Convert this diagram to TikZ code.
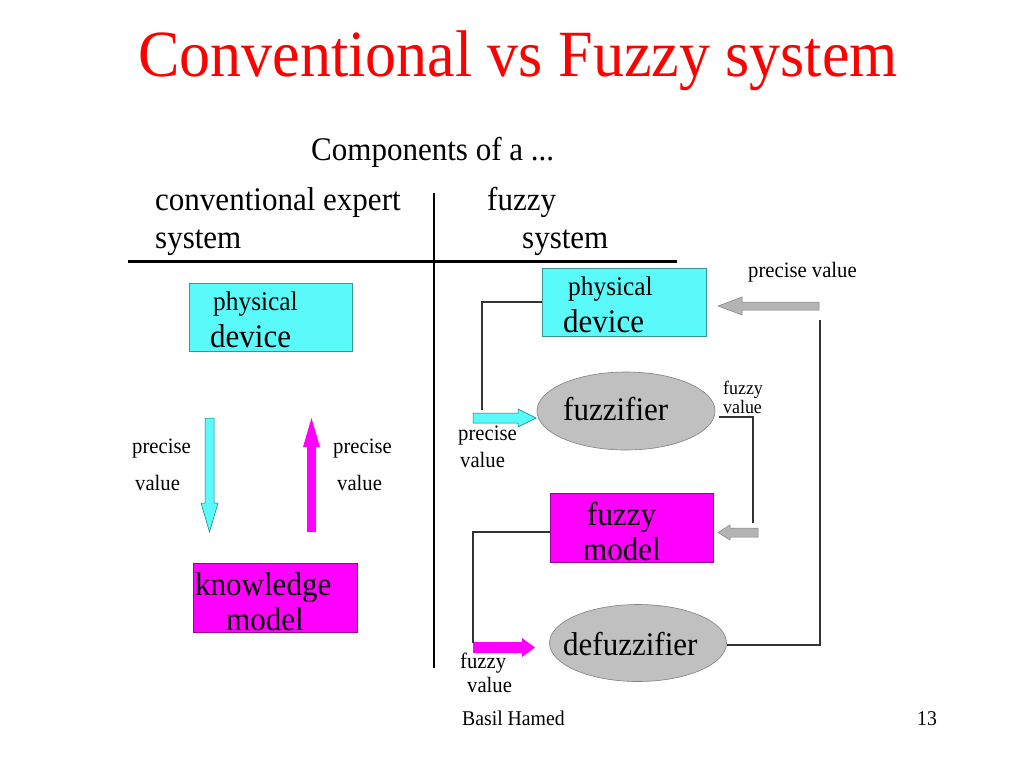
\documentclass[tikz,border=0pt]{standalone}
\usepackage{fontspec}
\setmainfont{Liberation Serif}
\usetikzlibrary{shapes.geometric}
\newcommand\myfs[1]{\fontsize{#1}{#1}\selectfont}
\definecolor{boxcyan}{RGB}{90,250,250}
\definecolor{boxmag}{RGB}{255,0,255}
\definecolor{ellgray}{RGB}{192,192,192}
\definecolor{arrgray}{RGB}{180,180,180}
\definecolor{titlered}{RGB}{255,0,0}
\begin{document}
\begin{tikzpicture}[x=1pt,y=-1pt,
  txt/.style={inner sep=0pt, anchor=base west, xscale=0.94},
  box/.style={draw=#1!60!black, line width=0.6pt, minimum width=164pt, minimum height=68pt, inner sep=0pt},
  ell/.style={ellipse, draw=gray, line width=0.6pt, fill=ellgray, inner sep=0pt},
  conn/.style={draw=black!80, line width=1.3pt},
  barrow/.style={line width=0.5pt}
]
\useasboundingbox[fill=white] (0,0) rectangle (1024,768);

% title
\node[txt, anchor=base, text=titlered, font=\myfs{66}] (title) at (518,77) {Conventional vs Fuzzy system};
\node[txt, font=\myfs{33}] (comp) at (311,160) {Components of a ...};
\node[txt, font=\myfs{33}] (conv1) at (155,210) {conventional expert};
\node[txt, font=\myfs{33}] (conv2) at (155,248) {system};
\node[txt, font=\myfs{33}] (fuz1) at (487,210) {fuzzy};
\node[txt, font=\myfs{33}] (fuz2) at (522,248) {system};

% table lines
\coordinate (hl) at (128,261);
\coordinate (hr) at (677,261);
\coordinate (vt) at (434,193);
\coordinate (vb) at (434,668);
\draw[line width=3pt] (hl) -- (hr);
\draw[line width=2pt] (vt) -- (vb);

% left side
\node[box=boxcyan, fill=boxcyan, minimum width=163pt] (pd1) at (270.5,317) {};
\node[txt, font=\myfs{27}] (pd1a) at (213,310) {physical};
\node[txt, font=\myfs{33}] (pd1b) at (210,347) {device};

\node[box=boxmag, fill=boxmag, minimum height=69pt] (km) at (275,597.5) {};
\node[txt, font=\myfs{33}] (kma) at (195,595) {knowledge};
\node[txt, font=\myfs{33}] (kmb) at (226,630) {model};

\fill[boxcyan, draw=teal, barrow] (205,418) -- (214,418) -- (214,503) -- (218,503) -- (209.5,532) -- (201,503) -- (205,503) -- cycle;
\fill[boxmag] (307,532) -- (316,532) -- (316,447) -- (320,447) -- (311.5,418) -- (303,447) -- (307,447) -- cycle;

\node[txt, font=\myfs{22}] (pl1) at (132,453) {precise};
\node[txt, font=\myfs{22}] (pl2) at (135,490) {value};
\node[txt, font=\myfs{22}] (pr1) at (333,453) {precise};
\node[txt, font=\myfs{22}] (pr2) at (337,490) {value};

% right side
\node[box=boxcyan, fill=boxcyan] (pd2) at (624,302) {};
\node[txt, font=\myfs{27}] (pd2a) at (568,295) {physical};
\node[txt, font=\myfs{33}] (pd2b) at (563,332) {device};

\node[ell, minimum width=178pt, minimum height=78pt] (fz) at (626,411) {};
\node[txt, font=\myfs{33}] (fza) at (563,420) {fuzzifier};

\node[box=boxmag, fill=boxmag, minimum width=163pt, minimum height=69pt] (fm) at (631.5,527.5) {};
\node[txt, font=\myfs{33}] (fma) at (587,525) {fuzzy};
\node[txt, font=\myfs{33}] (fmb) at (583,560) {model};

\node[ell, minimum width=177pt, minimum height=77pt] (dfz) at (638,643) {};
\node[txt, font=\myfs{33}] (dfza) at (563,655) {defuzzifier};

% labels
\node[txt, font=\myfs{22}] (pv) at (748,277) {precise value};
\node[txt, font=\myfs{19}] (fv1) at (723,394) {fuzzy};
\node[txt, font=\myfs{19}] (fv2) at (723,413) {value};
\node[txt, font=\myfs{22}] (pv1) at (458,440) {precise};
\node[txt, font=\myfs{22}] (pv2) at (460,467) {value};
\node[txt, font=\myfs{22}] (fb1) at (460,668) {fuzzy};
\node[txt, font=\myfs{22}] (fb2) at (467,692) {value};

% block arrows
\fill[boxcyan, draw=teal, barrow] (473,413) -- (518,413) -- (518,409) -- (536,418) -- (518,427) -- (518,423) -- (473,423) -- cycle;
\fill[arrgray, draw=gray, barrow] (819,302) -- (742,302) -- (742,297) -- (718,306) -- (742,315) -- (742,310) -- (819,310) -- cycle;
\fill[arrgray, draw=gray, barrow] (758,528) -- (730,528) -- (730,525) -- (718,532.5) -- (730,540) -- (730,537) -- (758,537) -- cycle;
\fill[boxmag] (473,642) -- (522,642) -- (522,638) -- (535,647.5) -- (522,657) -- (522,653) -- (473,653) -- cycle;

% connectors
\coordinate (c1) at (482,302);
\coordinate (c2) at (482,410);
\draw[conn] (pd2.west |- c1) -- (c1) -- (c2);

\coordinate (c3) at (719,417);
\coordinate (c4) at (753,417);
\coordinate (c5) at (753,523);
\draw[conn] (c3) -- (c4) -- (c5);

\coordinate (c6) at (473,532);
\coordinate (c7) at (473,643);
\draw[conn] (fm.west |- c6) -- (c6) -- (c7);

\coordinate (c8) at (820,645);
\coordinate (c9) at (820,320);
\draw[conn] (dfz.east |- c8) -- (c8) -- (c9);

% footer
\node[txt, font=\myfs{21}] (foot) at (462,725) {Basil Hamed};
\node[txt, font=\myfs{21}] (page) at (917,725) {13};
\end{tikzpicture}
\end{document}
